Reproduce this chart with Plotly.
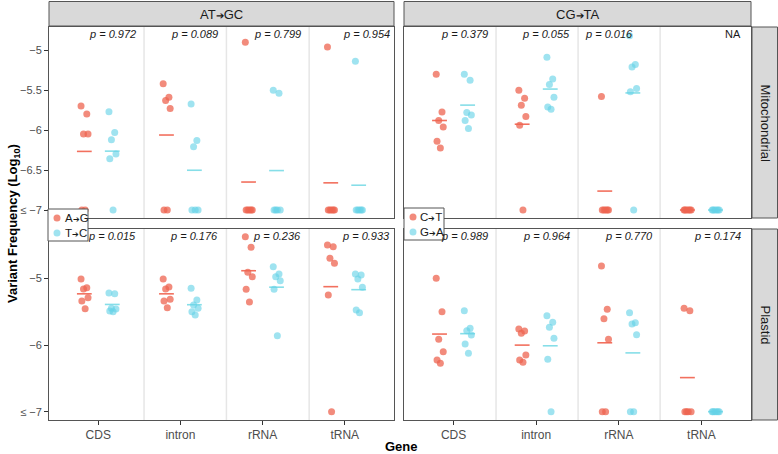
import plotly.graph_objects as go

# ---- data (log10 variant frequency, values at -7 mean "<= -7") ----
genes = ["CDS", "intron", "rRNA", "tRNA"]

mito_AG = [[-5.70, -5.80, -6.05, -6.05, -7.0, -7.0],
           [-5.42, -5.59, -5.63, -5.73, -7.0, -7.0],
           [-4.90, -7.0, -7.0, -7.0, -7.0, -7.0],
           [-4.96, -7.0, -7.0, -7.0, -7.0, -7.0]]
mito_TC = [[-5.77, -6.03, -6.12, -6.30, -6.36, -7.0],
           [-5.675, -6.13, -6.21, -7.0, -7.0, -7.0],
           [-5.50, -5.54, -7.0, -7.0, -7.0, -7.0],
           [-5.14, -7.0, -7.0, -7.0, -7.0, -7.0]]
mito_CT = [[-5.30, -5.775, -5.88, -5.96, -6.14, -6.225],
           [-5.50, -5.60, -5.69, -5.83, -5.94, -7.0],
           [-5.58, -7.0, -7.0, -7.0, -7.0, -7.0],
           [-7.0, -7.0, -7.0, -7.0, -7.0, -7.0]]
mito_GA = [[-5.30, -5.375, -5.78, -5.81, -5.88, -5.98],
           [-5.09, -5.36, -5.43, -5.59, -5.71, -5.74],
           [-4.82, -5.18, -5.21, -5.48, -5.52, -7.0],
           [-7.0, -7.0, -7.0, -7.0, -7.0, -7.0]]

plastid_AG = [[-5.01, -5.14, -5.16, -5.29, -5.34, -5.455],
              [-5.01, -5.13, -5.16, -5.315, -5.34, -5.44],
              [-4.375, -4.535, -4.91, -4.975, -5.165, -5.355],
              [-4.50, -4.525, -4.70, -4.775, -5.25, -7.0]]
plastid_TC = [[-5.22, -5.23, -5.45, -5.46, -5.49, -5.50],
              [-5.15, -5.325, -5.40, -5.45, -5.50, -5.55],
              [-4.826, -4.935, -4.975, -5.035, -5.165, -5.86],
              [-4.935, -4.95, -5.01, -5.135, -5.475, -5.515]]
plastid_CT = [[-5.0, -5.5, -5.915, -6.10, -6.225, -6.275],
              [-5.76, -5.79, -5.825, -6.15, -6.225, -6.26],
              [-4.815, -5.465, -5.605, -5.915, -7.0, -7.0],
              [-5.45, -5.485, -7.0, -7.0, -7.0, -7.0]]
plastid_GA = [[-5.485, -5.75, -5.785, -5.85, -5.985, -6.125],
              [-5.56, -5.66, -5.735, -5.90, -6.215, -7.0],
              [-5.515, -5.665, -5.685, -5.845, -7.0, -7.0],
              [-7.0, -7.0, -7.0, -7.0, -7.0, -7.0]]

p_atgc_mito = ["0.972", "0.089", "0.799", "0.954"]
p_atgc_plastid = ["0.015", "0.176", "0.236", "0.933"]
p_cgta_mito = ["0.379", "0.055", "0.016", "NA"]
p_cgta_plastid = ["0.989", "0.964", "0.770", "0.174"]

col_titles = [("AT", "GC"), ("CG", "TA")]
row_titles = ["Mitochondrial", "Plastid"]
legend_labels = [[("A", "G"), ("T", "C")], [("C", "T"), ("G", "A")]]

# ---- style ----
W, H = 778, 454
RED_PT = "rgba(238,100,80,0.75)"
BLUE_PT = "rgba(100,210,230,0.62)"
RED_LN = "#F2705E"
BLUE_LN = "#86DEE8"
EDGE = "#555555"
FONT = "Liberation Sans, Arial, sans-serif"
JIT = [-0.04, 0.03, -0.01, 0.045, -0.03, 0.01]
DODGE = 0.17


def px(x):
    return x / W


def py(y):
    return 1 - y / H


def arrow(a, b, size):
    # small heavy arrow between the two bases
    return f"{a}<span style='font-size:{size}px'>\u2794</span>{b}"


def label(x, y, text, size, **kw):
    # paper-positioned text, centred on the given pixel position
    d = dict(x=px(x), y=py(y), xref="paper", yref="paper", text=text,
             showarrow=False, xanchor="center", yanchor="middle",
             font=dict(size=size, color=kw.pop("color", "#1A1A1A"), family=FONT))
    d.update(kw)
    return d


# panel pixel boxes (x0, x1, y0, y1)
col_px = [(49, 394), (404, 751)]
row_px = [(27, 218), (229, 420)]
yranges = [[-7.1, -4.71], [-7.125, -4.26]]
yticks = [[-5, -5.5, -6, -6.5, -7], [-5, -6, -7]]
yticktext = [["\u22125", "\u22125.5", "\u22126", "\u22126.5", "\u2264 \u22127"],
             ["\u22125", "\u22126", "\u2264 \u22127"]]
sep_pos = [[1.557, 2.56, 3.567], [1.514, 2.507, 3.5]]
p_xpos = [[1.48, 2.48, 3.49, 4.58], [1.44, 2.43, 3.44, 4.5]]

panels = {
    (0, 0): (mito_AG, mito_TC, p_atgc_mito),
    (0, 1): (mito_CT, mito_GA, p_cgta_mito),
    (1, 0): (plastid_AG, plastid_TC, p_atgc_plastid),
    (1, 1): (plastid_CT, plastid_GA, p_cgta_plastid),
}

fig = go.Figure()
shapes = []
annotations = []
layout = {}

for (r, c), (red_data, blue_data, pvals) in panels.items():
    k = r * 2 + c + 1
    xa = "x" if k == 1 else f"x{k}"
    ya = "y" if k == 1 else f"y{k}"
    xkey = "xaxis" if k == 1 else f"xaxis{k}"
    ykey = "yaxis" if k == 1 else f"yaxis{k}"

    x0, x1 = col_px[c]
    y0, y1 = row_px[r]
    layout[xkey] = dict(
        domain=[px(x0), px(x1)], range=[0.4, 4.6], anchor=ya,
        tickvals=[1, 2, 3, 4], ticktext=genes,
        showticklabels=(r == 1), ticks="outside" if r == 1 else "",
        ticklen=4, tickcolor="#333333", tickwidth=1,
        tickfont=dict(size=12, color="#4D4D4D", family=FONT),
        showgrid=False, zeroline=False, showline=True, mirror=True,
        linecolor=EDGE, linewidth=1)
    layout[ykey] = dict(
        domain=[py(y1), py(y0)], range=yranges[r], anchor=xa,
        tickvals=yticks[r], ticktext=yticktext[r],
        showticklabels=(c == 0), ticks="outside" if c == 0 else "",
        ticklen=4, tickcolor="#333333", tickwidth=1,
        tickfont=dict(size=11, color="#4D4D4D", family=FONT),
        showgrid=False, zeroline=False, showline=True, mirror=True,
        linecolor=EDGE, linewidth=1)

    # light separators between gene columns
    for s in sep_pos[c]:
        shapes.append(dict(type="line", xref=xa, yref=f"{ya} domain",
                           x0=s, x1=s, y0=0, y1=1, layer="below",
                           line=dict(color="#E6E6E6", width=1.5)))

    for g in range(4):
        for data, off, pcol, lcol in ((red_data, -DODGE, RED_PT, RED_LN),
                                      (blue_data, DODGE, BLUE_PT, BLUE_LN)):
            vals = data[g]
            xs = [g + 1 + off + JIT[i % len(JIT)] for i in range(len(vals))]
            mean = sum(vals) / len(vals)
            fig.add_trace(go.Scatter(
                x=[g + 1 + off - 0.09, g + 1 + off + 0.09], y=[mean, mean],
                mode="lines", line=dict(color=lcol, width=1.6),
                xaxis=xa, yaxis=ya, showlegend=False, hoverinfo="skip"))
            fig.add_trace(go.Scatter(
                x=xs, y=vals, mode="markers",
                marker=dict(size=7, color=pcol, line=dict(width=0)),
                xaxis=xa, yaxis=ya, showlegend=False))

        txt = pvals[g]
        txt = "NA" if txt == "NA" else f"<i>p = {txt}</i>"
        annotations.append(dict(
            x=p_xpos[c][g], y=0.963, xref=xa, yref=f"{ya} domain",
            text=txt, showarrow=False, xanchor="right", yanchor="middle",
            font=dict(size=11, color="#1A1A1A", family=FONT)))

# the p = 0.016 label sits left of the rRNA column
for a in annotations:
    if "0.016" in a["text"]:
        a["x"] = 2.57
        a["xanchor"] = "left"

# column strips
for c, (a, b) in enumerate(col_titles):
    x0, x1 = col_px[c]
    shapes.append(dict(type="rect", xref="paper", yref="paper",
                       x0=px(x0), x1=px(x1), y0=py(26), y1=py(1.5),
                       fillcolor="#D9D9D9", line=dict(color=EDGE, width=1)))
    annotations.append(label((x0 + x1) / 2, 14, arrow(a, b, 10), 13))

# row strips
for r, title in enumerate(row_titles):
    y0, y1 = row_px[r]
    shapes.append(dict(type="rect", xref="paper", yref="paper",
                       x0=px(752), x1=px(777.5), y0=py(y1), y1=py(y0),
                       fillcolor="#D9D9D9", line=dict(color=EDGE, width=1)))
    annotations.append(label(765, (y0 + y1) / 2, title, 13, textangle=90))

# legends drawn inside the top panels
leg_box = [(48, 88, 209, 241), (404, 444, 208, 240)]
for c, (lx0, lx1, ly0, ly1) in enumerate(leg_box):
    shapes.append(dict(type="rect", xref="paper", yref="paper", layer="above",
                       x0=px(lx0), x1=px(lx1), y0=py(ly1), y1=py(ly0),
                       fillcolor="white", line=dict(color=EDGE, width=1)))
    for i, ((a, b), col) in enumerate(zip(legend_labels[c], [RED_PT, BLUE_PT])):
        cy = ly0 + 9 + i * 15
        shapes.append(dict(type="circle", xref="paper", yref="paper", layer="above",
                           x0=px(lx0 + 5.5), x1=px(lx0 + 12.5),
                           y0=py(cy + 3.5), y1=py(cy - 3.5),
                           fillcolor=col, line=dict(width=0)))
        annotations.append(label(lx0 + 14.5, cy, arrow(a, b, 8), 11.5, xanchor="left"))

# axis titles
annotations.append(label(13, 224, "<b>Variant Frequency (Log<sub>10</sub>)</b>", 13,
                         color="black", textangle=-90))
annotations.append(label(401, 446, "<b>Gene</b>", 13, color="black"))

fig.update_layout(width=W, height=H,
                  margin=dict(l=0, r=0, t=0, b=0, autoexpand=False),
                  plot_bgcolor="white", paper_bgcolor="white",
                  shapes=shapes, annotations=annotations, showlegend=False,
                  **layout)

# page body has a default margin; remove it so the figure fills the window
fig.write_html("out.html", config={"displayModeBar": False},
               post_script="document.body.style.margin='0';")
